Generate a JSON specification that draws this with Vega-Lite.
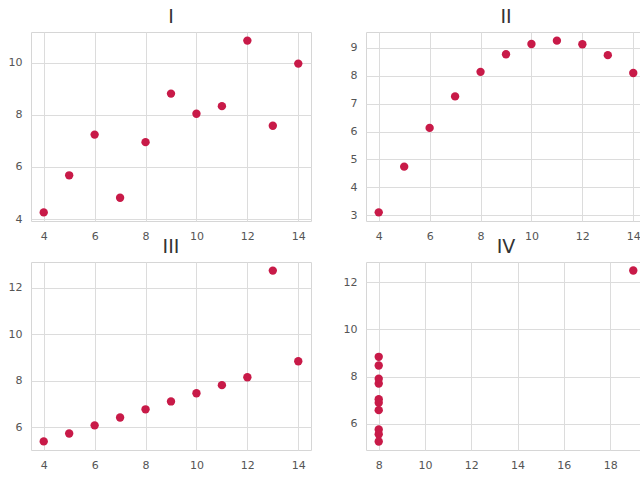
{
  "$schema": "https://vega.github.io/schema/vega-lite/v6.json",
  "padding": {"left": 7, "top": 7, "right": 0, "bottom": 0},
  "background": "white",
  "data": {"values": [
    {"set": "I", "x": 10, "y": 8.04}, {"set": "I", "x": 8, "y": 6.95}, {"set": "I", "x": 13, "y": 7.58}, {"set": "I", "x": 9, "y": 8.81}, {"set": "I", "x": 11, "y": 8.33}, {"set": "I", "x": 14, "y": 9.96}, {"set": "I", "x": 6, "y": 7.24}, {"set": "I", "x": 4, "y": 4.26}, {"set": "I", "x": 12, "y": 10.84}, {"set": "I", "x": 7, "y": 4.82}, {"set": "I", "x": 5, "y": 5.68},
    {"set": "II", "x": 10, "y": 9.14}, {"set": "II", "x": 8, "y": 8.14}, {"set": "II", "x": 13, "y": 8.74}, {"set": "II", "x": 9, "y": 8.77}, {"set": "II", "x": 11, "y": 9.26}, {"set": "II", "x": 14, "y": 8.10}, {"set": "II", "x": 6, "y": 6.13}, {"set": "II", "x": 4, "y": 3.10}, {"set": "II", "x": 12, "y": 9.13}, {"set": "II", "x": 7, "y": 7.26}, {"set": "II", "x": 5, "y": 4.74},
    {"set": "III", "x": 10, "y": 7.46}, {"set": "III", "x": 8, "y": 6.77}, {"set": "III", "x": 13, "y": 12.74}, {"set": "III", "x": 9, "y": 7.11}, {"set": "III", "x": 11, "y": 7.81}, {"set": "III", "x": 14, "y": 8.84}, {"set": "III", "x": 6, "y": 6.08}, {"set": "III", "x": 4, "y": 5.39}, {"set": "III", "x": 12, "y": 8.15}, {"set": "III", "x": 7, "y": 6.42}, {"set": "III", "x": 5, "y": 5.73},
    {"set": "IV", "x": 8, "y": 6.58}, {"set": "IV", "x": 8, "y": 5.76}, {"set": "IV", "x": 8, "y": 7.71}, {"set": "IV", "x": 8, "y": 8.84}, {"set": "IV", "x": 8, "y": 8.47}, {"set": "IV", "x": 8, "y": 7.04}, {"set": "IV", "x": 8, "y": 5.25}, {"set": "IV", "x": 19, "y": 12.50}, {"set": "IV", "x": 8, "y": 5.56}, {"set": "IV", "x": 8, "y": 7.91}, {"set": "IV", "x": 8, "y": 6.89}
  ]},
  "columns": 2,
  "spacing": {"row": -5, "column": 30},
  "config": {
    "view": {"stroke": "#d6d6d6", "strokeWidth": 1},
    "axis": {
      "grid": true, "gridColor": "#dcdcdc", "gridWidth": 1,
      "ticks": false, "domain": false,
      "labelColor": "#555555", "labelFontSize": 11, "labelFont": "DejaVu Sans",
      "labelPadding": 9, "title": null
    },
    "title": {"fontSize": 19, "font": "DejaVu Sans", "fontWeight": "normal", "color": "#333333", "offset": 5},
    "point": {"filled": true, "size": 70, "color": "#c81a48", "opacity": 1}
  },
  "concat": [
    {
      "title": "I", "width": 280, "height": 189,
      "transform": [{"filter": "datum.set === 'I'"}],
      "mark": "point",
      "encoding": {
        "x": {"field": "x", "type": "quantitative", "scale": {"domain": [3.5, 14.5], "nice": false, "zero": false}, "axis": {"values": [4, 6, 8, 10, 12, 14]}},
        "y": {"field": "y", "type": "quantitative", "scale": {"domain": [3.93, 11.17], "nice": false, "zero": false}, "axis": {"values": [4, 6, 8, 10]}}
      }
    },
    {
      "title": "II", "width": 280, "height": 189,
      "transform": [{"filter": "datum.set === 'II'"}],
      "mark": "point",
      "encoding": {
        "x": {"field": "x", "type": "quantitative", "scale": {"domain": [3.5, 14.5], "nice": false, "zero": false}, "axis": {"values": [4, 6, 8, 10, 12, 14]}},
        "y": {"field": "y", "type": "quantitative", "scale": {"domain": [2.79, 9.57], "nice": false, "zero": false}, "axis": {"values": [3, 4, 5, 6, 7, 8, 9]}}
      }
    },
    {
      "title": "III", "width": 280, "height": 188,
      "transform": [{"filter": "datum.set === 'III'"}],
      "mark": "point",
      "encoding": {
        "x": {"field": "x", "type": "quantitative", "scale": {"domain": [3.5, 14.5], "nice": false, "zero": false}, "axis": {"values": [4, 6, 8, 10, 12, 14]}},
        "y": {"field": "y", "type": "quantitative", "scale": {"domain": [5.02, 13.11], "nice": false, "zero": false}, "axis": {"values": [6, 8, 10, 12]}}
      }
    },
    {
      "title": "IV", "width": 280, "height": 188,
      "transform": [{"filter": "datum.set === 'IV'"}],
      "mark": "point",
      "encoding": {
        "x": {"field": "x", "type": "quantitative", "scale": {"domain": [7.45, 19.55], "nice": false, "zero": false}, "axis": {"values": [8, 10, 12, 14, 16, 18]}},
        "y": {"field": "y", "type": "quantitative", "scale": {"domain": [4.89, 12.86], "nice": false, "zero": false}, "axis": {"values": [6, 8, 10, 12]}}
      }
    }
  ]
}
